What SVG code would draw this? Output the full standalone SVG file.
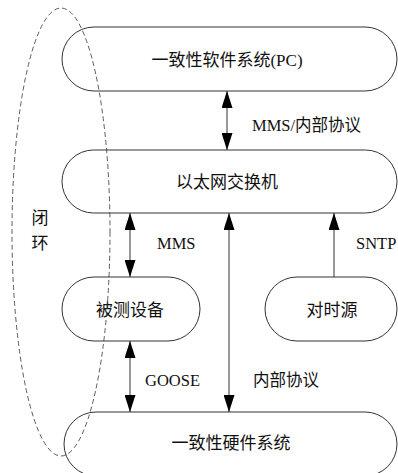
<svg xmlns="http://www.w3.org/2000/svg" width="398" height="473" viewBox="0 0 398 473">
<style>
.node{fill:#fff;stroke:#333;stroke-width:1}
.t{font-family:"Liberation Serif","Noto Sans CJK SC",serif;fill:#111;text-anchor:middle;dominant-baseline:central;font-size:17px}
.lbl{font-family:"Liberation Serif","Noto Sans CJK SC",serif;fill:#111;dominant-baseline:central;font-size:16.5px}
.c{stroke:#333;stroke-width:1;fill:none}
</style>
<defs>
<marker id="ah" markerUnits="userSpaceOnUse" markerWidth="17" markerHeight="11" refX="17" refY="5.5" orient="auto-start-reverse">
<path d="M0,0 L17,5.5 L0,11 z" fill="#000"/>
</marker>
</defs>
<rect width="398" height="473" fill="#fff"/>
<g id="n1"><rect class="node" x="62" y="27" width="335" height="64" rx="32"/><text class="t" x="227" y="60">一致性软件系统(PC)</text></g>
<g id="n2"><rect class="node" x="62" y="150" width="335" height="63" rx="31.5"/><text class="t" x="227" y="182">以太网交换机</text></g>
<g id="n3"><rect class="node" x="62" y="277" width="138" height="64" rx="32"/><text class="t" x="130" y="310">被测设备</text></g>
<g id="n4"><rect class="node" x="265" y="277" width="132" height="64" rx="32"/><text class="t" x="332" y="310">对时源</text></g>
<g id="n5"><rect class="node" x="64" y="412" width="333" height="64" rx="32"/><text class="t" x="231" y="443">一致性硬件系统</text></g>
<g id="loop"><ellipse cx="61" cy="232" rx="49" ry="224" fill="none" stroke="#333" stroke-width="0.8" stroke-dasharray="5,3"/>
<text class="t" x="40" y="218">闭</text><text class="t" x="40" y="243">环</text></g>
<g id="connectors">
<line class="c" x1="227" y1="91" x2="227" y2="150" marker-start="url(#ah)" marker-end="url(#ah)"/>
<line class="c" x1="130" y1="213" x2="130" y2="277" marker-start="url(#ah)" marker-end="url(#ah)"/>
<line class="c" x1="229" y1="213" x2="229" y2="412" marker-start="url(#ah)" marker-end="url(#ah)"/>
<line class="c" x1="334" y1="277" x2="334" y2="213" marker-end="url(#ah)"/>
<line class="c" x1="130" y1="341" x2="130" y2="412" marker-start="url(#ah)" marker-end="url(#ah)"/>
</g>
<g id="labels">
<text class="lbl" x="252" y="125">MMS/内部协议</text>
<text class="lbl" x="157" y="243">MMS</text>
<text class="lbl" x="356" y="243">SNTP</text>
<text class="lbl" x="145" y="380">GOOSE</text>
<text class="lbl" x="253" y="380">内部协议</text>
</g>
</svg>
